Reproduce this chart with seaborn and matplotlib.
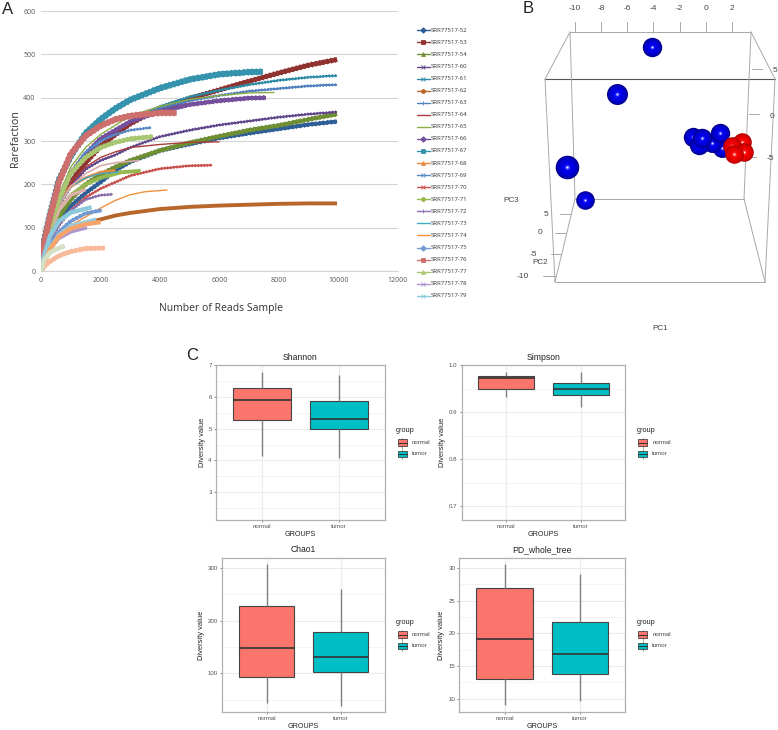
import numpy as np
import pandas as pd
import matplotlib
matplotlib.use("Agg")
import matplotlib.pyplot as plt
import matplotlib.patheffects as pe
from matplotlib.patches import Rectangle
from matplotlib.ticker import MultipleLocator
import seaborn as sns

W, H = 778, 730

x_52 = [0, 100, 300, 600, 1000, 1500, 2000, 2500, 3000, 4000, 5000, 6000, 7000, 8000, 9000, 9950]
y_52 = [0, 35, 75, 115, 150, 180, 205, 232, 252, 278, 293, 307, 318, 328, 338, 345]
x_53 = [0, 100, 300, 600, 1000, 1500, 2000, 2500, 3000, 3500, 4000, 5000, 6000, 7000, 8000, 9000, 9950]
y_53 = [0, 60, 110, 160, 205, 250, 288, 315, 340, 358, 372, 398, 418, 438, 457, 475, 488]
x_54 = [0, 100, 300, 600, 1000, 1500, 2000, 2500, 3000, 4000, 5000, 6000, 7000, 8000, 9000, 9950]
y_54 = [0, 40, 85, 125, 165, 200, 222, 240, 255, 278, 296, 311, 325, 336, 350, 362]
x_60 = [0, 100, 300, 600, 1000, 1500, 2000, 2500, 3000, 4000, 5000, 6000, 7000, 8000, 9000, 9950]
y_60 = [0, 50, 100, 150, 195, 235, 255, 268, 285, 310, 325, 337, 346, 355, 362, 367]
x_61 = [0, 100, 300, 600, 1000, 1500, 2000, 3000, 4000, 5000, 6000, 7000, 8000, 9000, 9950]
y_61 = [0, 60, 115, 170, 225, 270, 305, 345, 380, 402, 417, 430, 440, 447, 451]
x_62 = [0, 100, 300, 600, 1000, 1500, 2000, 2500, 3000, 4000, 5000, 6000, 7000, 8000, 9000, 9950]
y_62 = [0, 30, 55, 80, 100, 110, 119, 128, 134, 143, 148, 151, 153, 155, 156, 156]
x_63 = [0, 100, 300, 600, 1000, 1500, 2000, 3000, 4000, 5000, 6000, 7000, 8000, 9000, 9950]
y_63 = [0, 60, 115, 165, 220, 265, 300, 345, 375, 393, 405, 415, 421, 427, 430]
x_64 = [0, 100, 300, 600, 1000, 1500, 2000, 2500, 3000, 4000, 5000, 6000]
y_64 = [0, 50, 100, 160, 205, 240, 262, 275, 285, 292, 297, 298]
x_65 = [0, 100, 300, 600, 1000, 1500, 2000, 3000, 4000, 5000, 6000, 7000, 7850]
y_65 = [0, 60, 120, 175, 240, 285, 315, 358, 380, 396, 405, 411, 412]
x_66 = [0, 100, 300, 600, 1000, 1500, 2000, 3000, 4000, 5000, 6000, 7000, 7550]
y_66 = [0, 55, 110, 165, 225, 270, 305, 345, 368, 384, 393, 399, 400]
x_67 = [0, 100, 300, 600, 1000, 1500, 2000, 2500, 3000, 4000, 5000, 6000, 7000, 7450]
y_67 = [0, 70, 130, 210, 265, 318, 350, 375, 395, 422, 442, 454, 459, 460]
x_68 = [0, 100, 300, 600, 1000, 1500, 2000, 2500]
y_68 = [0, 50, 100, 160, 195, 215, 228, 232]
x_69 = [0, 100, 300, 600, 1000, 1500, 2000, 2500, 3000, 3700]
y_69 = [0, 55, 105, 165, 225, 275, 300, 315, 325, 331]
x_70 = [0, 100, 300, 600, 1000, 1500, 2000, 3000, 4000, 5000, 5750]
y_70 = [0, 35, 70, 105, 140, 170, 190, 220, 236, 243, 244]
x_71 = [0, 100, 300, 600, 1000, 1500, 2000, 2700, 3350]
y_71 = [0, 45, 90, 140, 175, 200, 215, 228, 231]
x_72 = [0, 100, 300, 600, 1000, 1500, 2000, 2400]
y_72 = [0, 35, 70, 105, 140, 165, 175, 177]
x_73 = [0, 100, 300, 600, 1000, 1500, 2000, 2600]
y_73 = [0, 50, 100, 155, 195, 215, 225, 228]
x_74 = [0, 100, 300, 600, 1000, 1500, 2000, 2500, 3000, 3500, 4250]
y_74 = [0, 30, 60, 85, 105, 125, 145, 163, 176, 183, 187]
x_75 = [0, 100, 300, 600, 1000, 1500, 2030]
y_75 = [0, 30, 60, 90, 115, 133, 140]
x_76 = [0, 100, 300, 600, 1000, 1500, 2000, 2500, 3000, 4000, 4550]
y_76 = [0, 65, 125, 205, 270, 312, 335, 350, 358, 365, 365]
x_77 = [0, 100, 300, 600, 1000, 1500, 2000, 2500, 3000, 3750]
y_77 = [0, 50, 100, 165, 225, 262, 285, 297, 305, 310]
x_78 = [0, 100, 300, 600, 1000, 1550]
y_78 = [0, 25, 50, 75, 90, 100]
x_79 = [0, 100, 300, 600, 1000, 1700]
y_79 = [0, 35, 80, 115, 135, 147]
# curves in the plot that the legend does not list
x_e1 = [0, 300, 600, 1000, 1500, 2000]
y_e1 = [0, 50, 80, 98, 108, 113]
x_e2 = [0, 300, 600, 1000, 1850]
y_e2 = [0, 55, 85, 105, 120]
x_e3 = [0, 100, 300, 600, 1000, 1500, 2150]
y_e3 = [0, 10, 22, 35, 45, 52, 53]
x_e4 = [0, 100, 300, 500, 800]
y_e4 = [0, 25, 42, 50, 58]
x_e5 = [0, 300, 600, 1000, 1500]
y_e5 = [0, 90, 140, 175, 188]
x_e6 = [0, 300, 600, 1000, 1500, 2000, 2500, 3300]
y_e6 = [0, 95, 150, 195, 225, 243, 250, 255]

legend_names = ["SRR77517-52", "SRR77517-53", "SRR77517-54", "SRR77517-60", "SRR77517-61", "SRR77517-62",
                "SRR77517-63", "SRR77517-64", "SRR77517-65", "SRR77517-66", "SRR77517-67", "SRR77517-68",
                "SRR77517-69", "SRR77517-70", "SRR77517-71", "SRR77517-72", "SRR77517-73", "SRR77517-74",
                "SRR77517-75", "SRR77517-76", "SRR77517-77", "SRR77517-78", "SRR77517-79"]
legend_markers = ["D", "s", "^", "x", "x", "o", "+", "", "", "D", "s", "^", "x", "x", "o", "+", "", "", "D", "s", "^", "x", "x"]

# panel B: positions as (PC1, PC3) on the projected cube
blue_pc1 = [-4.11, -6.79, -10.61, -9.24, 1.24, 0.47, -0.98, -0.51, -0.29, 1.08]
blue_pc3 = [7.5, 2.16, -6.14, -9.89, -3.98, -3.41, -2.73, -3.64, -2.84, -2.27]
blue_size = [9.7, 10.5, 11.8, 9.3, 9.5, 9.5, 9.7, 9.7, 9.7, 9.7]
red_pc1 = [2.4, 2.77, 2.0, 2.92, 2.16]
red_pc3 = [-3.7, -3.3, -3.75, -4.43, -4.66]
red_size = [9.5, 9.3, 9.3, 9.3, 9.3]
top_ticks = [-10, -8, -6, -4, -2, 0, 2]

# panel C: whisker low, q1, median, q3, whisker high
groups = ["normal", "tumor"]
shannon_normal = [4.15, 5.27, 5.9, 6.29, 6.8]
shannon_tumor = [4.07, 4.99, 5.3, 5.88, 6.68]
simpson_normal = [0.932, 0.95, 0.973, 0.977, 0.985]
simpson_tumor = [0.912, 0.936, 0.95, 0.962, 0.985]
chao1_normal = [43, 93, 149, 228, 308]
chao1_tumor = [38, 102, 131, 178, 260]
pd_normal = [9.0, 13.0, 19.1, 26.9, 30.6]
pd_tumor = [9.6, 13.8, 16.9, 21.8, 29.1]

sns.set_style("white")
plt.rcParams["font.family"] = ["Liberation Sans", "DejaVu Sans"]

fig = plt.figure(figsize=(W / 100, H / 100), dpi=100)


def px_axes(left, top, right, bottom):
    a = fig.add_axes([left / W, 1 - bottom / H, (right - left) / W, (bottom - top) / H])
    a.patch.set_alpha(0)
    a.set_zorder(2)
    return a


# overlay in pixel coords for labels, cube lines and hand made legends
over = fig.add_axes([0, 0, 1, 1])
over.set_xlim(0, W)
over.set_ylim(H, 0)
over.axis("off")
over.set_zorder(1)

over.text(2, 13.5, "A", fontsize=12, va="baseline", color="#222222")
over.text(523, 13, "B", fontsize=12, va="baseline", color="#222222")
over.text(186, 360.5, "C", fontsize=12, va="baseline", color="#222222")

# ---- panel A
ax = px_axes(41, 11, 398, 271)


def fuzz(lw=1.0, spacing=2.2, width=None):
    # the stacked markers of the original show as small teeth along the line
    length = (lw / 2 + 0.6) / spacing
    opts = {} if width is None else {"linewidth": width}
    return dict(path_effects=[pe.withTickedStroke(angle=90, spacing=spacing, length=length, **opts),
                              pe.withTickedStroke(angle=-90, spacing=spacing, length=length, **opts),
                              pe.Normal()])


curves = [
    (x_52, y_52, "#2F5F97", 2.4, fuzz(2.4, 2.8, 0.9)),
    (x_53, y_53, "#8F3330", 3.0, fuzz(3.0, 2.8, 0.9)),
    (x_54, y_54, "#6F8F35", 2.6, fuzz(2.6, 2.8, 0.9)),
    (x_60, y_60, "#62468C", 1.0, fuzz()),
    (x_61, y_61, "#2E8BA5", 1.0, fuzz()),
    (x_62, y_62, "#B8672B", 2.8, {}),
    (x_63, y_63, "#5080BE", 1.0, fuzz()),
    (x_64, y_64, "#AA3D3A", 1.0, {}),
    (x_65, y_65, "#8CAD45", 1.0, {}),
    (x_66, y_66, "#744F9C", 2.6, fuzz(2.6, 2.8, 0.9)),
    (x_67, y_67, "#3593AE", 3.8, fuzz(3.8, 3.0, 1.0)),
    (x_68, y_68, "#E9873A", 2.0, {}),
    (x_69, y_69, "#5A8AC6", 1.0, fuzz()),
    (x_70, y_70, "#C8504C", 1.0, fuzz()),
    (x_71, y_71, "#95B84F", 2.8, {}),
    (x_72, y_72, "#8A70AE", 1.0, fuzz()),
    (x_73, y_73, "#45A8C4", 1.0, {}),
    (x_74, y_74, "#F29240", 1.0, {}),
    (x_75, y_75, "#7399D2", 2.0, fuzz(2.0, 2.8, 0.9)),
    (x_e6, y_e6, "#D8A9A7", 1.2, {}),
    (x_e5, y_e5, "#DDB0AE", 2.4, {}),
    (x_77, y_77, "#A9C770", 2.8, fuzz(2.8, 2.8, 0.9)),
    (x_76, y_76, "#CD6F6C", 3.8, fuzz(3.8, 3.0, 1.0)),
    (x_78, y_78, "#AD97CC", 2.4, {}),
    (x_79, y_79, "#8CCADB", 3.2, {}),
    (x_e2, y_e2, "#93CDE0", 2.2, {}),
    (x_e1, y_e1, "#F5A368", 3.2, {}),
    (x_e3, y_e3, "#F9BA9C", 2.8, fuzz(2.8, 2.8, 0.9)),
    (x_e4, y_e4, "#D3E0C2", 3.4, {}),
]
for xs, ys, col, lw, extra in curves:
    sns.lineplot(x=xs, y=ys, color=col, linewidth=lw, sort=False, estimator=None,
                 solid_capstyle="butt", ax=ax, **extra)
ax.set_xlim(0, 12000)
ax.set_ylim(0, 600)
ax.set_xticks(range(0, 12001, 2000))
ax.set_yticks(range(0, 601, 100))
ax.grid(axis="y", color="#d4d4d4", linewidth=0.8)
ax.set_axisbelow(True)
sns.despine(ax=ax, left=True)
ax.spines["bottom"].set_color("#d4d4d4")
ax.tick_params(length=0, labelsize=5, labelcolor="#555555", pad=4)
for t in ax.get_xticklabels() + ax.get_yticklabels():
    t.set_family("Open Sans")
over.text(221, 308, "Number of Reads Sample", fontsize=7.5, family="Open Sans", ha="center", va="center", color="#333333")
over.text(16, 139, "Rarefaction", fontsize=7.7, family="Open Sans", rotation=90, ha="center", va="center", color="#333333")

legend_colors = [c[2] for c in curves[:19]] + ["#CD6F6C", "#A9C770", "#AD97CC", "#8CCADB"]
for i, name in enumerate(legend_names):
    yy = 30.3 + i * 12.07
    over.plot([417, 430], [yy, yy], color=legend_colors[i], linewidth=1.0)
    if legend_markers[i]:
        over.plot([423.5], [yy], color=legend_colors[i], marker=legend_markers[i], markersize=2.8, markeredgewidth=0.6)
    over.text(431, yy, name, fontsize=4.3, family="Open Sans", va="center", color="#333333")

# ---- panel B
cage = [
    [(545, 79), (775, 79)], [(545, 79), (555, 282)], [(775, 79), (765, 282)], [(555, 282), (765, 282)],
    [(570, 32), (751, 32)], [(570, 32), (575, 199)], [(751, 32), (744, 199)], [(575, 199), (744, 199)],
    [(570, 32), (545, 79)], [(751, 32), (775, 79)], [(575, 199), (555, 282)], [(744, 199), (765, 282)],
]
for p, q in cage:
    dark = p[1] == 79 and q[1] == 79
    over.plot([p[0], q[0]], [p[1], q[1]], color="#555555" if dark else "#a8a8a8", linewidth=0.8 if dark else 0.7)
for i, lab in enumerate(top_ticks):
    xx = 575 + (lab + 10) * 13.08
    over.plot([xx, xx], [32, 22], color="#a8a8a8", linewidth=0.7)
    over.text(xx, 9, str(lab), fontsize=6, ha="center", va="center", color="#444444")
for lab, xa, xb, yy, xt in [("5", 752, 762, 69, 775), ("0", 749, 759, 114, 772), ("-5", 746, 756, 157, 770)]:
    over.plot([xa, xb], [yy, yy], color="#a8a8a8", linewidth=0.7)
    over.text(xt, yy + 2, lab, fontsize=6, ha="center", va="center", color="#444444")
for lab, xa, xb, yy, xt in [("5", 560, 570, 214, 546), ("0", 555, 566, 233, 540), ("-5", 551, 561, 254, 533), ("-10", 543, 555, 276, 523)]:
    over.plot([xa, xb], [yy, yy], color="#a8a8a8", linewidth=0.7)
    over.text(xt, yy, lab, fontsize=6, ha="center", va="center", color="#444444")
over.text(511, 200, "PC3", fontsize=5.9, ha="center", va="center", color="#444444")
over.text(540, 262, "PC2", fontsize=5.9, ha="center", va="center", color="#444444")
over.text(660, 329, "PC1", fontsize=5.9, ha="center", va="center", color="#444444")

bx = px_axes(540, 0, 778, 340)
bx.set_xlim(-10 - 35 / 13.08, 2 + 46 / 13.08)
bx.set_ylim(-227 / 8.8, 113 / 8.8)
bx.axis("off")

blue_shades = [(1.0, "#00008c"), (0.9, "#0000b4"), (0.75, "#0000d2"), (0.55, "#0000e6"), (0.32, "#0808f5"), (0.2, "#3c3cff"), (0.12, "#9a9aff"), (0.06, "#ffffff")]
red_shades = [(1.0, "#b00000"), (0.9, "#d00000"), (0.75, "#e40000"), (0.55, "#f00000"), (0.32, "#fa1010"), (0.2, "#ff4a4a"), (0.12, "#ffa0a0"), (0.06, "#ffffff")]


def sphere(a, x, y, radius, shades, order):
    # concentric discs give the lit ball look
    for k, (frac, col) in enumerate(shades):
        d = 2 * radius * frac * 0.72
        sns.scatterplot(x=[x], y=[y], s=d * d, color=col, linewidth=0, zorder=order + k * 0.01, legend=False, ax=a)


for i in range(len(blue_pc1)):
    sphere(bx, blue_pc1[i], blue_pc3[i], blue_size[i], blue_shades, 3 + i)
for i in range(len(red_pc1)):
    sphere(bx, red_pc1[i], red_pc3[i], red_size[i], red_shades, 20 + i)
bx.set_xlabel("")
bx.set_ylabel("")

# ---- panel C
pal = {"normal": "#FB756C", "tumor": "#00BFC4"}


def diversity_box(pos, title, normal, tumor, ylim, major, minor, fmt, leg_top):
    a = px_axes(*pos)
    df = pd.DataFrame({"GROUPS": ["normal"] * 5 + ["tumor"] * 5, "value": normal + tumor})
    sns.boxplot(data=df, x="GROUPS", y="value", hue="GROUPS", order=groups, hue_order=groups, palette=pal,
                whis=(0, 100), width=0.75, dodge=False, saturation=1, legend=False, showcaps=False,
                linecolor="#444444", linewidth=0.8, ax=a,
                whiskerprops={"color": "#808080", "linewidth": 1.0},
                medianprops={"color": "#333333", "linewidth": 1.2})
    a.set_xlim(-0.6, 1.6)
    a.set_ylim(*ylim)
    a.yaxis.set_major_locator(MultipleLocator(major))
    a.yaxis.set_minor_locator(MultipleLocator(minor))
    a.yaxis.set_major_formatter(fmt)
    a.grid(which="major", color="#ebebeb", linewidth=0.8)
    a.grid(which="minor", axis="y", color="#f2f2f2", linewidth=0.6)
    a.set_axisbelow(True)
    for s in a.spines.values():
        s.set_color("#b0b0b0")
        s.set_linewidth(0.9)
    a.tick_params(axis="both", which="major", length=1.5, width=0.5, color="#555555", labelsize=4.4, labelcolor="#555555", pad=1.5, bottom=True, left=True)
    a.tick_params(axis="both", which="minor", length=0)
    a.set_title(title, fontsize=6.2, color="#222222", pad=4)
    a.set_xlabel("GROUPS", fontsize=5.2, color="#222222", labelpad=1.2)
    a.set_ylabel("Diversity value", fontsize=5.4, color="#222222", labelpad=2)

    # ggplot style key to the right of the panel
    lx = pos[2] + 11
    over.text(lx, leg_top, "group", fontsize=5.3, va="center", color="#222222")
    for i, g in enumerate(groups):
        ky = leg_top + 12.5 + i * 11.4
        over.plot([lx + 6.5, lx + 6.5], [ky - 5, ky + 5], color="#777777", linewidth=0.5)
        over.add_patch(Rectangle((lx + 1.7, ky - 3.2), 9, 6.4, facecolor=pal[g], edgecolor="#444444", linewidth=0.6, zorder=3))
        over.plot([lx + 1.7, lx + 10.7], [ky, ky], color="#333333", linewidth=0.7, zorder=4)
        over.text(lx + 16, ky, g, fontsize=4.4, va="center", color="#444444")


diversity_box((216, 365.3, 385, 520.3), "Shannon", shannon_normal, shannon_tumor, (2.11, 7.0), 1, 0.5, "{x:.0f}", 430)
diversity_box((461.7, 365.3, 625.3, 520.3), "Simpson", simpson_normal, simpson_tumor, (0.67, 1.0), 0.1, 0.05, "{x:.1f}", 430)
diversity_box((222.3, 557.7, 385, 712.3), "Chao1", chao1_normal, chao1_tumor, (25.7, 320), 100, 50, "{x:.0f}", 622)
diversity_box((459.3, 557.7, 625.3, 712.3), "PD_whole_tree", pd_normal, pd_tumor, (7.9, 31.6), 5, 2.5, "{x:.0f}", 622)

fig.savefig("out.png", dpi=100)
